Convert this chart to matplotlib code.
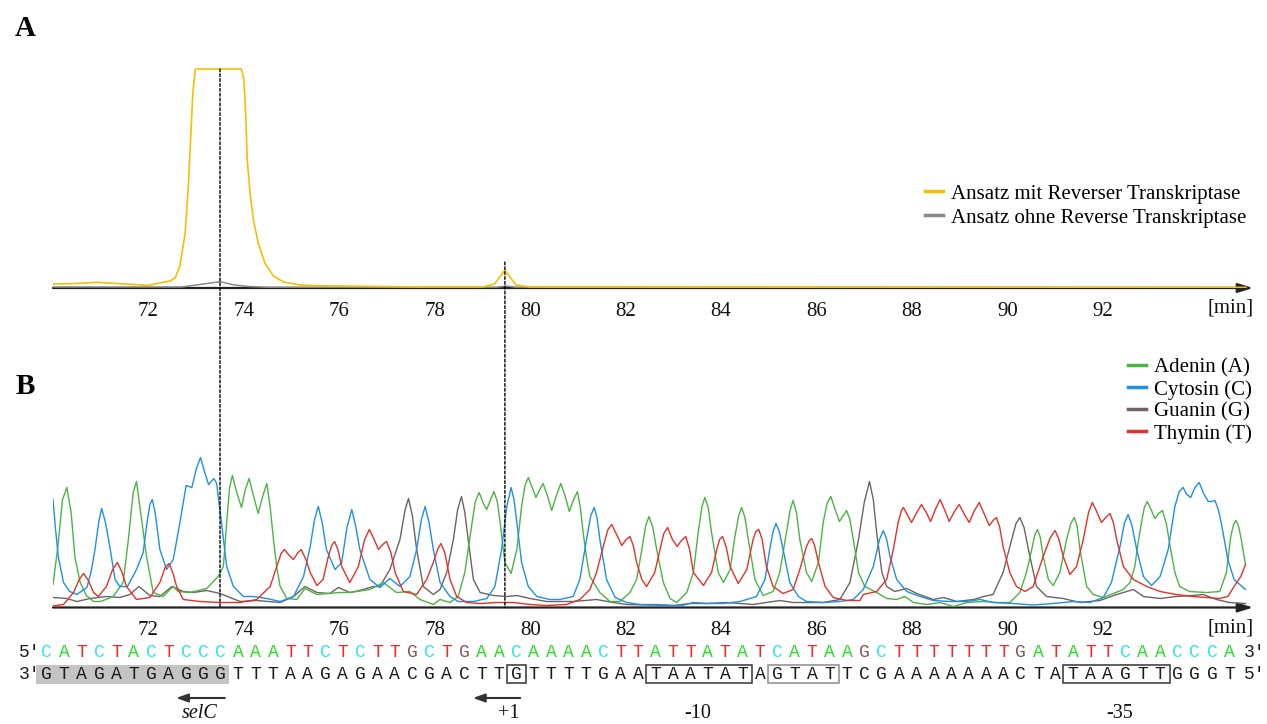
import matplotlib
matplotlib.use('Agg')
import matplotlib.pyplot as plt
from matplotlib.patches import ConnectionPatch, Rectangle
from matplotlib.lines import Line2D

# ---------------- data ----------------
# Panel A: RT-PCR product (arbitrary units)
rt_plus_t = [70.01, 70.5, 70.92, 71.5, 72.0, 72.45, 72.56, 72.66, 72.77, 72.84, 72.89, 72.93, 72.98, 73.00,
             73.95, 74.00, 74.04, 74.07, 74.13, 74.20, 74.30, 74.44, 74.62, 74.83, 75.18, 75.53, 76.85,
             77.69, 79.0, 79.25, 79.38, 79.47, 79.56, 79.70, 80.0, 95.0]
rt_plus_v = [4, 4.5, 5.7, 4, 2.7, 7, 10, 22, 55, 105, 155, 195, 218, 219,
             219, 208, 172, 128, 95, 68, 45, 25, 12, 6, 3, 2.3, 1.5,
             1, 1, 4, 12, 18, 12, 3, 1, 0.5]
rt_minus_t = [70.0, 72.7, 73.0, 73.5, 73.8, 74.1, 74.5, 79.3, 79.5, 79.7, 95.0]
rt_minus_v = [1, 1, 3, 6.3, 3, 1.5, 0.8, 0.8, 2, 0.8, 0.5]

# Panel B: sequencing traces
adenin_t = [70.00, 70.10, 70.20, 70.29, 70.38, 70.46, 70.57, 70.70, 70.85, 71.00, 71.26, 71.47, 71.58, 71.68,
            71.75, 71.82, 71.96, 72.10, 72.31, 72.45, 72.52, 72.62, 72.87, 73.22, 73.46, 73.57, 73.64, 73.70,
            73.76, 73.85, 73.95, 74.03, 74.11, 74.20, 74.30, 74.40, 74.48, 74.55, 74.62, 74.69, 74.76, 74.90,
            75.11, 75.28, 75.53, 76.01, 76.22, 76.64, 76.92, 77.20, 77.48, 77.69, 77.97, 78.11, 78.32, 78.49,
            78.63, 78.77, 78.85, 78.93, 79.02, 79.09, 79.17, 79.24, 79.31, 79.37, 79.47, 79.60, 79.72, 79.82,
            79.89, 79.96, 80.04, 80.12, 80.20, 80.27, 80.36, 80.45, 80.55, 80.64, 80.73, 80.82, 80.91, 80.99,
            81.05, 81.11, 81.18, 81.25, 81.46, 81.67, 81.88, 82.09, 82.23, 82.34, 82.42, 82.49, 82.57, 82.65,
            82.79, 82.93, 83.07, 83.28, 83.42, 83.52, 83.60, 83.66, 83.73, 83.80, 83.94, 84.05, 84.19, 84.29,
            84.37, 84.43, 84.50, 84.57, 84.71, 84.88, 85.09, 85.23, 85.37, 85.45, 85.51, 85.58, 85.65, 85.79,
            85.90, 86.04, 86.14, 86.22, 86.30, 86.39, 86.48, 86.56, 86.63, 86.70, 86.77, 86.88, 87.01, 87.26,
            87.47, 87.68, 87.85, 88.03, 88.31, 88.59, 88.87, 89.15, 89.50, 89.77, 90.05, 90.26, 90.40, 90.51,
            90.57, 90.63, 90.69, 90.75, 90.86, 90.96, 91.10, 91.24, 91.33, 91.40, 91.46, 91.52, 91.66, 91.80,
            92.01, 92.22, 92.43, 92.57, 92.67, 92.74, 92.81, 92.87, 92.93, 93.00, 93.09, 93.17, 93.25, 93.33,
            93.41, 93.51, 93.61, 93.82, 94.17, 94.45, 94.59, 94.68, 94.74, 94.79, 94.84, 94.89, 94.99]
adenin_v = [23, 60, 108, 120, 95, 50, 25, 12, 6, 6, 11, 25, 68, 115,
            126, 101, 51, 15, 11, 18, 21, 16, 15, 19, 31, 41, 85, 120,
            132, 115, 100, 118, 129, 112, 94, 112, 124, 101, 68, 40, 21, 9,
            8, 19, 13, 15, 15, 18, 25, 15, 16, 8, 3, 8, 5, 11,
            35, 81, 106, 115, 104, 98, 108, 116, 106, 85, 45, 34, 58, 101,
            122, 130, 120, 110, 118, 124, 112, 97, 112, 124, 112, 96, 108, 116,
            100, 75, 50, 31, 15, 6, 6, 15, 28, 58, 82, 91, 80, 58,
            25, 9, 5, 15, 35, 75, 101, 110, 100, 75, 35, 25, 38, 71,
            92, 100, 90, 68, 28, 12, 16, 35, 75, 98, 107, 95, 68, 35,
            26, 45, 85, 104, 111, 98, 86, 92, 97, 88, 68, 35, 21, 15,
            9, 8, 11, 5, 3, 5, 1, 5, 6, 5, 5, 15, 35, 58,
            72, 78, 70, 51, 28, 22, 35, 68, 84, 90, 82, 58, 21, 13,
            10, 14, 18, 25, 41, 65, 85, 100, 106, 99, 89, 94, 97, 84,
            61, 35, 21, 16, 15, 16, 35, 71, 83, 87, 82, 71, 43]

cytosin_t = [70.00, 70.05, 70.11, 70.22, 70.35, 70.50, 70.71, 70.80, 70.88, 70.96, 71.02, 71.10, 71.19, 71.30,
             71.40, 71.56, 71.75, 71.89, 71.97, 72.03, 72.08, 72.14, 72.24, 72.38, 72.52, 72.66, 72.79, 72.91,
             73.00, 73.09, 73.18, 73.26, 73.37, 73.43, 73.53, 73.64, 73.78, 73.99, 74.20, 74.48, 74.76, 75.04,
             75.25, 75.39, 75.48, 75.56, 75.64, 75.73, 75.91, 76.05, 76.16, 76.26, 76.34, 76.43, 76.64, 76.85,
             77.06, 77.27, 77.48, 77.62, 77.72, 77.80, 77.88, 77.97, 78.11, 78.32, 78.49, 78.81, 79.09, 79.26,
             79.40, 79.51, 79.60, 79.66, 79.72, 79.82, 79.96, 80.14, 80.41, 80.62, 80.90, 81.04, 81.18, 81.27,
             81.34, 81.40, 81.46, 81.60, 81.78, 82.02, 82.30, 82.65, 83.14, 83.42, 83.70, 84.05, 84.40, 84.74,
             84.92, 85.02, 85.09, 85.15, 85.22, 85.30, 85.44, 85.62, 85.79, 86.14, 86.49, 86.77, 86.98, 87.19,
             87.32, 87.40, 87.47, 87.54, 87.68, 87.89, 88.17, 88.45, 88.80, 89.15, 89.43, 89.70, 90.12, 90.54,
             90.96, 91.38, 91.73, 92.01, 92.18, 92.36, 92.45, 92.53, 92.61, 92.71, 92.85, 93.02, 93.20, 93.37,
             93.51, 93.60, 93.68, 93.76, 93.84, 93.93, 94.02, 94.11, 94.21, 94.28, 94.35, 94.42, 94.48, 94.62,
             94.75, 94.99]
cytosin_v = [108, 80, 51, 25, 16, 13, 20, 36, 58, 86, 99, 85, 61, 28,
             21, 21, 38, 55, 85, 103, 108, 95, 58, 38, 48, 85, 122, 120,
             138, 150, 135, 123, 129, 124, 85, 41, 21, 11, 11, 9, 6, 11,
             31, 61, 88, 101, 85, 58, 38, 45, 80, 98, 82, 58, 28, 20,
             29, 21, 31, 58, 88, 101, 85, 58, 25, 11, 6, 6, 9, 21,
             58, 101, 120, 108, 85, 45, 21, 11, 8, 8, 11, 28, 68, 92,
             100, 90, 68, 28, 10, 5, 3, 3, 1.5, 5, 4, 4, 6, 11,
             28, 58, 76, 84, 76, 58, 25, 11, 6, 5, 6, 8, 18, 41,
             68, 77, 68, 51, 28, 16, 11, 7, 6, 6, 8, 5, 4, 2.5,
             4, 6, 5, 10, 25, 61, 84, 93, 82, 58, 31, 22, 31, 58,
             101, 116, 120, 113, 110, 120, 125, 114, 106, 106, 107, 98, 85, 48,
             28, 18]

guanin_t = [70.00, 70.29, 70.50, 70.78, 71.12, 71.40, 71.61, 71.80, 72.03, 72.24, 72.49, 72.73, 72.94, 73.22,
            73.50, 73.92, 74.27, 74.76, 75.04, 75.28, 75.53, 75.80, 75.98, 76.22, 76.43, 76.71, 76.85, 77.06,
            77.27, 77.38, 77.45, 77.53, 77.62, 77.76, 77.97, 78.11, 78.25, 78.39, 78.48, 78.56, 78.63, 78.70,
            78.81, 78.95, 79.23, 79.51, 79.72, 80.00, 80.34, 80.90, 81.39, 81.74, 82.02, 82.44, 83.00, 83.35,
            83.70, 84.12, 84.67, 85.23, 85.51, 86.14, 86.49, 86.70, 86.88, 87.00, 87.11, 87.19, 87.26, 87.37,
            87.47, 87.64, 87.89, 88.10, 88.45, 88.66, 88.94, 89.29, 89.50, 89.70, 89.91, 90.09, 90.18, 90.26,
            90.35, 90.44, 90.61, 90.82, 91.17, 91.52, 91.94, 92.29, 92.64, 92.85, 93.20, 93.54, 93.89, 94.10,
            94.38, 94.65, 94.99]
guanin_v = [10, 9, 6, 9, 11, 10, 13, 21, 12, 11, 21, 16, 15, 17,
            14, 6, 7, 5, 11, 21, 15, 14, 20, 15, 17, 21, 21, 38,
            68, 98, 109, 92, 58, 21, 13, 18, 35, 68, 98, 111, 95, 68,
            28, 15, 12, 11, 12, 9, 6, 6, 8, 5, 3, 2.5, 2, 4,
            4, 5, 3, 7, 5, 5, 8, 25, 68, 105, 126, 108, 75, 35,
            21, 16, 19, 14, 8, 10, 6, 8, 11, 13, 35, 68, 84, 90,
            80, 58, 21, 11, 9, 5, 7, 13, 18, 11, 9, 11, 12, 13,
            8, 5, 4]

thymin_t = [70.00, 70.22, 70.43, 70.55, 70.64, 70.73, 70.85, 70.95, 71.12, 71.25, 71.35, 71.44, 71.54, 71.75,
            72.03, 72.24, 72.35, 72.43, 72.51, 72.59, 72.73, 73.08, 73.50, 73.92, 74.27, 74.55, 74.69, 74.78,
            74.85, 74.95, 75.04, 75.12, 75.20, 75.30, 75.39, 75.53, 75.66, 75.77, 75.84, 75.90, 75.97, 76.05,
            76.22, 76.40, 76.53, 76.63, 76.73, 76.82, 76.91, 76.99, 77.08, 77.17, 77.34, 77.62, 77.83, 77.97,
            78.06, 78.13, 78.21, 78.32, 78.46, 78.67, 78.95, 79.30, 79.65, 80.00, 80.34, 80.76, 81.04, 81.25,
            81.39, 81.53, 81.63, 81.71, 81.80, 81.92, 82.01, 82.09, 82.16, 82.23, 82.34, 82.44, 82.61, 82.72,
            82.80, 82.88, 82.98, 83.08, 83.17, 83.26, 83.34, 83.42, 83.63, 83.80, 83.91, 83.97, 84.03, 84.11,
            84.19, 84.36, 84.54, 84.67, 84.73, 84.79, 84.86, 84.95, 85.09, 85.30, 85.51, 85.65, 85.79, 85.85,
            85.90, 85.96, 86.04, 86.18, 86.35, 86.63, 86.91, 86.98, 87.26, 87.47, 87.61, 87.71, 87.78, 87.82,
            87.90, 87.99, 88.10, 88.20, 88.30, 88.39, 88.49, 88.59, 88.69, 88.78, 88.89, 88.99, 89.10, 89.20,
            89.31, 89.41, 89.52, 89.62, 89.70, 89.77, 89.84, 89.91, 90.05, 90.19, 90.37, 90.54, 90.75, 90.90,
            91.00, 91.08, 91.17, 91.31, 91.45, 91.59, 91.70, 91.78, 91.87, 91.97, 92.06, 92.15, 92.22, 92.29,
            92.43, 92.64, 92.92, 93.20, 93.54, 93.89, 94.17, 94.45, 94.62, 94.75, 94.89, 94.99]
thymin_v = [1.5, 3, 15, 28, 34, 28, 15, 11, 21, 38, 45, 36, 21, 8,
            10, 25, 40, 44, 35, 21, 8, 6, 5, 5, 8, 21, 41, 54,
            58, 52, 48, 54, 58, 48, 35, 22, 28, 51, 62, 66, 58, 41,
            25, 41, 68, 78, 68, 58, 63, 66, 55, 35, 16, 13, 28, 45,
            58, 64, 55, 28, 11, 5, 4, 5, 5, 3, 2, 3, 8, 18,
            35, 61, 78, 83, 74, 62, 68, 71, 62, 45, 28, 21, 35, 58,
            74, 80, 68, 61, 67, 71, 58, 35, 22, 35, 58, 68, 71, 60,
            41, 24, 38, 68, 76, 78, 68, 41, 21, 14, 18, 38, 61, 67,
            69, 62, 45, 21, 10, 7, 7, 13, 16, 28, 58, 85, 97, 100,
            93, 85, 95, 103, 95, 86, 98, 108, 97, 86, 96, 103, 93, 85,
            97, 105, 93, 82, 87, 90, 80, 61, 35, 21, 16, 21, 51, 70,
            77, 68, 51, 33, 41, 68, 95, 105, 96, 85, 90, 94, 85, 68,
            41, 28, 21, 16, 13, 11, 10, 9, 11, 21, 31, 43]

ticks = [72, 74, 76, 78, 80, 82, 84, 86, 88, 90, 92]
tick_labels = [str(t) for t in ticks]
seq_top = "CATCTACTCCCAAATTCTCTTGCTGAACAAAACTTATTATATCATAAGCTTTTTTTGATATTCAACCCA"
seq_bottom = "GTAGATGAGGGTTTAAGAGAACGACTTGTTTTGAATAATATAGTATTCGAAAAAAACTATAAGTTGGGT"
legend_a = ["Ansatz mit Reverser Transkriptase", "Ansatz ohne Reverse Transkriptase"]
legend_b = ["Adenin (A)", "Cytosin (C)", "Guanin (G)", "Thymin (T)"]
marks = [("selC", 73.08), ("+1", 79.56), ("-10", 83.50), ("-35", 92.36)]
peak_times = [73.5, 79.47]

# ---------------- style ----------------
W, H = 1267, 724
SERIF = 'Liberation Serif'
MONO = 'Liberation Mono'
FS = 15
C_YEL = '#f5c000'
C_GRAYA = '#8a8a8a'
C_A, C_C, C_G, C_T = '#4cb444', '#1f90e2', '#6e6262', '#e2322a'
base_col = {'A': '#22e022', 'C': '#30e6f0', 'T': '#f02828', 'G': '#8e5656'}

fig = plt.figure(figsize=(W / 100, H / 100), dpi=100)

def fx(px):
    return px / W

def fy(py):
    return 1 - py / H

PX_PER_MIN = 47.72
XMIN = 70.0
XMAX = XMIN + (1253 - 53) / PX_PER_MIN

axA = fig.add_axes([fx(53), fy(288), (1253 - 53) / W, (288 - 57) / H])
axB = fig.add_axes([fx(53), fy(607.5), (1253 - 53) / W, 168 / H])
axA.set_ylim(0, 231)
axB.set_ylim(0, 168)

for ax in (axA, axB):
    ax.set_xlim(XMIN, XMAX)
    for s in ax.spines.values():
        s.set_visible(False)
    ax.set_yticks([])
    ax.set_xticks(ticks)
    ax.set_xticklabels(tick_labels, fontfamily=SERIF, fontsize=FS)
    ax.tick_params(axis='x', length=0, pad=10, colors='#111111')
    ax.patch.set_alpha(0)
    ax.annotate('', xy=(XMAX, 0), xytext=(XMIN, 0), xycoords='data',
                arrowprops=dict(arrowstyle='-|>,head_length=0.9,head_width=0.28',
                                color='#222222', lw=1.6, shrinkA=0, shrinkB=0),
                annotation_clip=False)
    ax.text(94.68, -20, '[min]', fontfamily=SERIF, fontsize=FS, ha='center', va='center', color='#111111')

# Panel A
axA.plot(rt_minus_t, rt_minus_v, color=C_GRAYA, lw=1.1, zorder=3, solid_joinstyle='round')
axA.plot(rt_plus_t, rt_plus_v, color=C_YEL, lw=1.2, zorder=4, solid_joinstyle='round')
hA = [Line2D([], [], color=C_YEL, lw=2.5), Line2D([], [], color=C_GRAYA, lw=2.5)]
axA.legend(hA, legend_a, loc='upper left', bbox_to_anchor=(fx(925), fy(184)),
           bbox_transform=fig.transFigure, frameon=False,
           prop={'family': SERIF, 'size': FS}, handlelength=0.85, handletextpad=0.38,
           labelspacing=0.22, borderpad=0, borderaxespad=0)

# Panel B
for tt, vv, cc in [(guanin_t, guanin_v, C_G), (adenin_t, adenin_v, C_A),
                   (cytosin_t, cytosin_v, C_C), (thymin_t, thymin_v, C_T)]:
    axB.plot(tt, vv, color=cc, lw=1.0, zorder=3, solid_joinstyle='round')
hB = [Line2D([], [], color=c, lw=2.5) for c in (C_A, C_C, C_G, C_T)]
axB.legend(hB, legend_b, loc='upper left', bbox_to_anchor=(fx(1128), fy(358)),
           bbox_transform=fig.transFigure, frameon=False,
           prop={'family': SERIF, 'size': FS}, handlelength=0.85, handletextpad=0.38,
           labelspacing=0.11, borderpad=0, borderaxespad=0)

# sequence rows (y in pixel-offset data units below the B axis)
STEP = 0.3645
T0 = 69.87
Y_TOP, Y_BOT = -45.0, -67.0
SFS = 13
for i, ch in enumerate(seq_top):
    axB.text(T0 + i * STEP, Y_TOP, ch, color=base_col[ch], fontfamily=MONO, fontsize=SFS,
             ha='center', va='center', clip_on=False)
for i, ch in enumerate(seq_bottom):
    axB.text(T0 + i * STEP, Y_BOT, ch, color='#1a1a1a', fontfamily=MONO, fontsize=SFS,
             ha='center', va='center', clip_on=False)
for y, lab in [(Y_TOP, "5'"), (Y_BOT, "3'")]:
    axB.text(T0 - 1.0 * STEP, y, lab, color='#1a1a1a', fontfamily=MONO, fontsize=SFS,
             ha='center', va='center', clip_on=False)
n = len(seq_top)
for y, lab in [(Y_TOP, "3'"), (Y_BOT, "5'")]:
    axB.text(T0 + (n + 0.45) * STEP, y, lab, color='#1a1a1a', fontfamily=MONO, fontsize=SFS,
             ha='center', va='center', clip_on=False)

# highlight and boxes on the lower strand
axB.add_patch(Rectangle((T0 - 0.5 * STEP - 0.05, Y_BOT - 9), 11 * STEP + 0.05, 19,
                        facecolor='#c4c4c4', edgecolor='none', clip_on=False, zorder=1))
for start, length, col in [(27, 1, '#333333'), (35, 6, '#333333'), (42, 4, '#8a8a8a'), (59, 6, '#333333')]:
    axB.add_patch(Rectangle((T0 + (start - 0.5) * STEP - 0.02, Y_BOT - 8.5), length * STEP + 0.04, 18,
                            facecolor='none', edgecolor=col, lw=1.1, clip_on=False, zorder=2))

# arrows and labels
for x0, x1 in [(73.60, 72.58), (79.79, 78.80)]:
    axB.annotate('', xy=(x1, -90.5), xytext=(x0, -90.5), xycoords='data',
                 arrowprops=dict(arrowstyle='-|>,head_length=0.7,head_width=0.25',
                                 color='#333333', lw=1.5, shrinkA=0, shrinkB=0),
                 annotation_clip=False)
for txt, t in marks:
    axB.text(t, -106.5, txt, fontfamily=SERIF, fontsize=14.5, ha='center', va='center',
             style='italic' if txt == 'selC' else 'normal', color='#111111', clip_on=False)

# dotted guide lines through both panels
for t, top in zip(peak_times, [219, 26]):
    con = ConnectionPatch(xyA=(t, top), coordsA=axA.transData, xyB=(t, 0), coordsB=axB.transData,
                          color='black', lw=1.0, linestyle=(0, (2, 1.5)), zorder=5)
    fig.add_artist(con)

# panel letters
fig.text(fx(25), fy(28), 'A', fontfamily=SERIF, fontweight='bold', fontsize=21, ha='center', va='center')
fig.text(fx(25), fy(386), 'B', fontfamily=SERIF, fontweight='bold', fontsize=21, ha='center', va='center')

fig.savefig('out.png', dpi=100)
